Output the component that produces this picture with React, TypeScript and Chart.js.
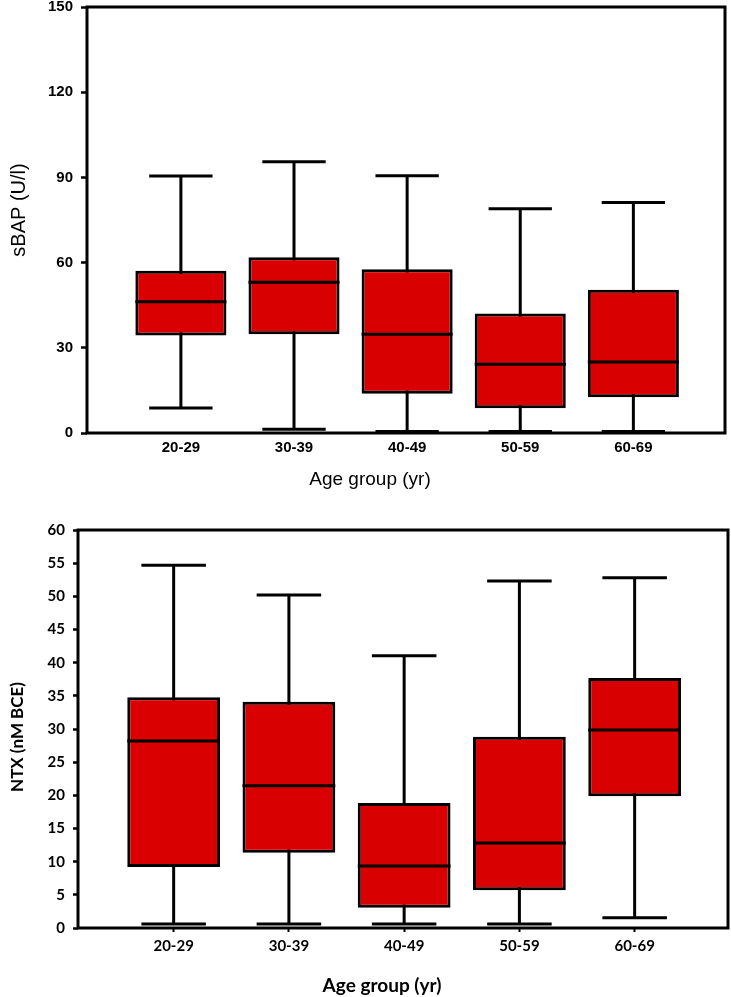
import React, { useEffect, useRef } from "react";
import { Chart, registerables } from "chart.js";
Chart.register(...registerables);

const categories = ["20-29", "30-39", "40-49", "50-59", "60-69"];

// Upper panel: sBAP (U/l)
const sbapMin = [8.8, 1.3, 0.5, 0.5, 0.5];
const sbapQ1 = [34.3, 34.8, 13.8, 8.7, 12.6];
const sbapMedian = [46.2, 53.1, 34.8, 24.2, 25.0];
const sbapQ3 = [57.1, 61.9, 57.7, 42.1, 50.4];
const sbapMax = [90.5, 95.5, 90.6, 79.0, 81.2];
const sbapTicks = [0, 30, 60, 90, 120, 150];

// Lower panel: NTX (nM BCE)
const ntxMin = [0.6, 0.6, 0.6, 0.6, 1.55];
const ntxQ1 = [9.2, 11.35, 3.05, 5.7, 19.85];
const ntxMedian = [28.2, 21.45, 9.35, 12.8, 29.85];
const ntxQ3 = [34.8, 34.1, 18.85, 28.85, 37.7];
const ntxMax = [54.7, 50.2, 41.05, 52.3, 52.8];
const ntxTicks = [0, 5, 10, 15, 20, 25, 30, 35, 40, 45, 50, 55, 60];

const RED = "#d80000";

type Spec = {
  width: number;
  height: number;
  top: number;
  min: number[];
  q1: number[];
  median: number[];
  q3: number[];
  max: number[];
  yTicks: number[];
  yTitle: string;
  xTitle: string;
  tickFont: any;
  yTitleFont: string;
  xTitleFont: string;
  yTitlePos: [number, number];
  xTitlePos: [number, number];
  padTop: number;
  padRight: number;
  yWidth: number;
  xHeight: number;
  yTickLen: number;
  xTickLen: number;
  yTickPad: number;
  xTickPad: number;
};

function BoxChart({ spec }: { spec: Spec }) {
  const ref = useRef<HTMLCanvasElement | null>(null);
  useEffect(() => {
    const canvas = ref.current;
    if (!canvas) return;
    const positions = categories.map((_, i) => i + 1);
    const plugin = {
      id: "boxParts",
      beforeDatasetsDraw(chart: any) {
        const { ctx } = chart;
        const x = chart.scales.x;
        const y = chart.scales.y;
        const spacing = x.getPixelForValue(2) - x.getPixelForValue(1);
        const cap = spacing * 0.56;
        ctx.save();
        ctx.strokeStyle = "#000";
        ctx.lineWidth = 3;
        positions.forEach((p, i) => {
          const cx = x.getPixelForValue(p);
          const yMin = y.getPixelForValue(spec.min[i]);
          const yMax = y.getPixelForValue(spec.max[i]);
          ctx.beginPath();
          ctx.moveTo(cx, yMin);
          ctx.lineTo(cx, yMax);
          ctx.moveTo(cx - cap / 2, yMin);
          ctx.lineTo(cx + cap / 2, yMin);
          ctx.moveTo(cx - cap / 2, yMax);
          ctx.lineTo(cx + cap / 2, yMax);
          ctx.stroke();
        });
        ctx.restore();
      },
      afterDatasetsDraw(chart: any) {
        const { ctx } = chart;
        const y = chart.scales.y;
        const meta = chart.getDatasetMeta(0);
        ctx.save();
        ctx.strokeStyle = "#000";
        ctx.lineWidth = 3;
        meta.data.forEach((el: any, i: number) => {
          const my = y.getPixelForValue(spec.median[i]);
          ctx.beginPath();
          ctx.moveTo(el.x - el.width / 2, my);
          ctx.lineTo(el.x + el.width / 2, my);
          ctx.stroke();
        });
        ctx.restore();
      },
      afterDraw(chart: any) {
        const { ctx, chartArea: a } = chart;
        ctx.save();
        ctx.strokeStyle = "#000";
        ctx.lineWidth = 3;
        ctx.strokeRect(a.left, a.top, a.right - a.left, a.bottom - a.top);
        ctx.fillStyle = "#000";
        ctx.textAlign = "center";
        ctx.textBaseline = "middle";
        ctx.font = spec.xTitleFont;
        ctx.fillText(spec.xTitle, spec.xTitlePos[0], spec.xTitlePos[1]);
        ctx.translate(spec.yTitlePos[0], spec.yTitlePos[1]);
        ctx.rotate(-Math.PI / 2);
        ctx.font = spec.yTitleFont;
        ctx.fillText(spec.yTitle, 0, 0);
        ctx.restore();
      },
    };
    const chart = new Chart(canvas, {
      type: "bar",
      data: {
        datasets: [
          {
            data: positions.map((p, i) => ({ x: p, y: [spec.q1[i], spec.q3[i]] })) as any,
            backgroundColor: RED,
            borderColor: "#000",
            borderWidth: 3,
            borderSkipped: false,
            barPercentage: 0.805,
            categoryPercentage: 1,
          },
        ],
      },
      options: {
        responsive: false,
        animation: false,
        layout: { padding: { left: 0, right: spec.padRight, top: spec.padTop, bottom: 0 } },
        plugins: { legend: { display: false }, tooltip: { enabled: false }, title: { display: false } },
        scales: {
          x: {
            type: "linear",
            min: 0.17,
            max: 5.81,
            offset: false,
            afterBuildTicks: (s: any) => {
              s.ticks = positions.map((v) => ({ value: v }));
            },
            afterFit: (s: any) => {
              s.height = spec.xHeight;
              s.paddingLeft = 0;
              s.paddingRight = 0;
            },
            border: { display: false },
            grid: {
              display: spec.xTickLen > 0,
              offset: false,
              drawOnChartArea: false,
              tickLength: spec.xTickLen,
              tickColor: "#000",
              tickWidth: 2,
              color: "#000",
            },
            ticks: {
              color: "#000",
              font: spec.tickFont,
              padding: spec.xTickPad,
              autoSkip: false,
              maxRotation: 0,
              callback: (v: any) => categories[Number(v) - 1] ?? "",
            },
          },
          y: {
            type: "linear",
            min: spec.yTicks[0],
            max: spec.yTicks[spec.yTicks.length - 1],
            afterBuildTicks: (s: any) => {
              s.ticks = spec.yTicks.map((v) => ({ value: v }));
            },
            afterFit: (s: any) => {
              s.width = spec.yWidth;
              s.paddingTop = 0;
              s.paddingBottom = 0;
            },
            border: { display: false },
            grid: {
              drawOnChartArea: false,
              tickLength: spec.yTickLen,
              tickColor: "#000",
              tickWidth: 2.5,
              color: "#000",
            },
            ticks: {
              color: "#000",
              font: spec.tickFont,
              padding: spec.yTickPad,
              autoSkip: false,
            },
          },
        },
      } as any,
      plugins: [plugin],
    });
    return () => chart.destroy();
  }, [spec]);
  return (
    <canvas
      ref={ref}
      width={spec.width}
      height={spec.height}
      style={{ position: "absolute", left: 0, top: spec.top, width: spec.width, height: spec.height, display: "block" }}
    />
  );
}

const topSpec: Spec = {
  width: 731,
  height: 497,
  top: 0,
  min: sbapMin,
  q1: sbapQ1,
  median: sbapMedian,
  q3: sbapQ3,
  max: sbapMax,
  yTicks: sbapTicks,
  yTitle: "sBAP (U/l)",
  xTitle: "Age group (yr)",
  tickFont: { family: "'Liberation Sans', Arial, sans-serif", size: 15, weight: "bold" },
  yTitleFont: "20px 'Liberation Sans', Arial, sans-serif",
  xTitleFont: "19px 'Liberation Sans', Arial, sans-serif",
  yTitlePos: [19, 210],
  xTitlePos: [370, 480],
  padTop: 7,
  padRight: 6,
  yWidth: 87,
  xHeight: 64,
  yTickLen: 6,
  xTickLen: 0,
  yTickPad: 8,
  xTickPad: 6,
};

const bottomSpec: Spec = {
  width: 731,
  height: 500,
  top: 497,
  min: ntxMin,
  q1: ntxQ1,
  median: ntxMedian,
  q3: ntxQ3,
  max: ntxMax,
  yTicks: ntxTicks,
  yTitle: "NTX (nM BCE)",
  xTitle: "Age group (yr)",
  tickFont: { family: "Lato, 'Open Sans', sans-serif", size: 15, weight: "bold" },
  yTitleFont: "bold 17px Lato, 'Open Sans', sans-serif",
  xTitleFont: "bold 19px Lato, 'Open Sans', sans-serif",
  yTitlePos: [18, 240],
  xTitlePos: [382, 489],
  padTop: 33,
  padRight: 3,
  yWidth: 78,
  xHeight: 69,
  yTickLen: 5,
  xTickLen: 4,
  yTickPad: 8,
  xTickPad: 5,
};

export default function App() {
  return (
    <div style={{ position: "absolute", left: 0, top: 0, width: 731, height: 997, background: "#fff" }}>
      <BoxChart spec={topSpec} />
      <BoxChart spec={bottomSpec} />
    </div>
  );
}
